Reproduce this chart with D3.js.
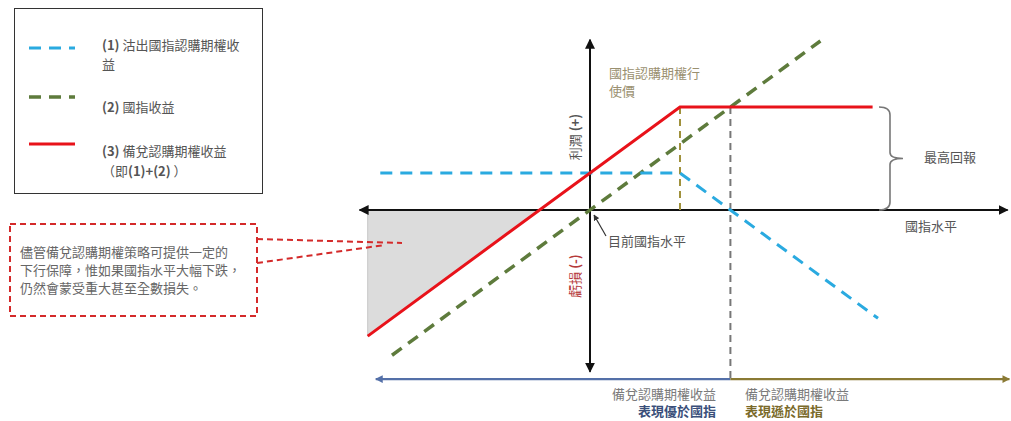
<!DOCTYPE html>
<html><head><meta charset="utf-8">
<script src="https://cdn.jsdelivr.net/npm/d3@7"></script>
<style>
body{margin:0;background:#fff;}
text{font-family:"Noto Sans CJK TC","Noto Sans",sans-serif;}
</style></head>
<body><svg id="c" width="1011" height="421"></svg>
<script>
// ---- data (index level vs. profit/loss) ----
const currentIndex = 100;
const strike = 110;
const premium = 5.6;
const breakEvenCall = 115.6;
const bluePayoffX = [76.7, 110, 132];       // (1) short call
const bluePayoffY = [5.6, 5.6, -16.4];
const greenPayoffX = [78, 125.6];           // (2) index
const greenPayoffY = [-22, 25.6];
const redPayoffX = [75.3, 110, 131.4];      // (3) covered call
const redPayoffY = [-19.1, 15.6, 15.6];
const lossAreaX = [75.3, 75.3, 94.4];
const lossAreaY = [0, -19.1, 0];
const hAxisX = [74.4, 146.4];
const vAxisY = [25.8, -24.5];
const bottomAxisY = -25.6;
const bottomAxisX = [76.2, 115.6, 146.6];

const legendLabels = [["(1) 沽出國指認購期權收","益"],["(2) 國指收益"],["(3) 備兌認購期權收益","（即(1)+(2)）"]];
const noteLines = ["儘管備兌認購期權策略可提供一定的","下行保障，惟如果國指水平大幅下跌，","仍然會蒙受重大甚至全數損失。"];

const x = d3.scaleLinear().domain([100, 110]).range([590, 680]);
const y = d3.scaleLinear().domain([0, 15.6]).range([210, 107]);

const svg = d3.select("#c");
const defs = svg.append("defs");
function marker(id, color, size){
  defs.append("marker").attr("id", id).attr("viewBox","0 0 10 10").attr("refX",9).attr("refY",5)
    .attr("markerWidth",size).attr("markerHeight",size).attr("orient","auto-start-reverse")
    .append("path").attr("d","M0,0 L10,5 L0,10 Z").attr("fill", color);
}
marker("ab","#111",5); marker("ablue","#5470a8",3.5); marker("agray","#333",5); marker("aolive","#8a7a34",3.5);

const line = d3.line().x(d=>x(d[0])).y(d=>y(d[1]));
const zip = (a,b)=>a.map((v,i)=>[v,b[i]]);

// loss area
svg.append("path").attr("d", line(zip(lossAreaX, lossAreaY))+"Z")
  .attr("fill","#dcdcdc").attr("stroke","#c8c8c8").attr("stroke-width",1);

// axes
svg.append("line").attr("x1",x(hAxisX[0])).attr("x2",x(hAxisX[1])).attr("y1",y(0)).attr("y2",y(0))
  .attr("stroke","#111").attr("stroke-width",2).attr("marker-start","url(#ab)").attr("marker-end","url(#ab)");
svg.append("line").attr("x1",x(currentIndex)).attr("x2",x(currentIndex)).attr("y1",y(vAxisY[0])).attr("y2",y(vAxisY[1]))
  .attr("stroke","#111").attr("stroke-width",2).attr("marker-start","url(#ab)").attr("marker-end","url(#ab)");

// dashed verticals
svg.append("line").attr("x1",x(strike)).attr("x2",x(strike)).attr("y1",y(redPayoffY[1])).attr("y2",y(0))
  .attr("stroke","#a0913c").attr("stroke-width",2).attr("stroke-dasharray","7,5");
svg.append("line").attr("x1",x(breakEvenCall)).attr("x2",x(breakEvenCall)).attr("y1",y(redPayoffY[1])).attr("y2",y(bottomAxisY))
  .attr("stroke","#777").attr("stroke-width",2).attr("stroke-dasharray","7,5");

// bottom axis
svg.append("line").attr("x1",x(bottomAxisX[0])).attr("x2",x(bottomAxisX[1])).attr("y1",y(bottomAxisY)).attr("y2",y(bottomAxisY))
  .attr("stroke","#5470a8").attr("stroke-width",2.2).attr("marker-start","url(#ablue)");
svg.append("line").attr("x1",x(bottomAxisX[1])).attr("x2",x(bottomAxisX[2])).attr("y1",y(bottomAxisY)).attr("y2",y(bottomAxisY))
  .attr("stroke","#8a7a34").attr("stroke-width",2.2).attr("marker-end","url(#aolive)");

// payoff lines
svg.append("path").attr("d", line(zip(greenPayoffX, greenPayoffY))).attr("fill","none")
  .attr("stroke","#5e7b3c").attr("stroke-width",3.5).attr("stroke-dasharray","12,8");
svg.append("path").attr("d", line(zip(bluePayoffX, bluePayoffY))).attr("fill","none")
  .attr("stroke","#2aaae0").attr("stroke-width",3).attr("stroke-dasharray","12,8");
svg.append("path").attr("d", line(zip(redPayoffX, redPayoffY))).attr("fill","none")
  .attr("stroke","#e8121a").attr("stroke-width",3);

// brace
const bx = 879, by0 = y(redPayoffY[1]), by1 = y(0), bm = (by0+by1)/2;
svg.append("path").attr("d",`M${bx},${by0} Q${bx+11},${by0} ${bx+11},${by0+8} L${bx+11},${bm-6} Q${bx+11},${bm} ${bx+24},${bm} Q${bx+11},${bm} ${bx+11},${bm+6} L${bx+11},${by1-8} Q${bx+11},${by1} ${bx},${by1}`)
  .attr("fill","none").attr("stroke","#777").attr("stroke-width",1.6);

// texts
const gray = "#555";
function txt(s, tx, ty, o={}){
  const t = svg.append("text").attr("x",tx).attr("y",ty).attr("font-size",o.size||13)
    .attr("fill",o.fill||gray).attr("text-anchor",o.anchor||"start").attr("dominant-baseline","middle");
  if(o.weight) t.attr("font-weight",o.weight);
  t.text(s); return t;
}
txt("國指認購期權行", 609, 74, {fill:"#9a9070"});
txt("使價", 609, 92, {fill:"#9a9070"});
txt("最高回報", 924, 158);
txt("國指水平", 905, 227);
txt("目前國指水平", 608, 242);
svg.append("line").attr("x1",606).attr("x2",594).attr("y1",236).attr("y2",215)
  .attr("stroke","#333").attr("stroke-width",1.2).attr("marker-end","url(#agray)");

const tp = svg.append("text").attr("transform","translate(576,137) rotate(-90)").attr("text-anchor","middle")
  .attr("dominant-baseline","middle").attr("font-size",13).attr("fill",gray);
tp.append("tspan").text("利潤 ");
tp.append("tspan").attr("font-weight","bold").text("(+)");
const tl = svg.append("text").attr("transform","translate(576,276) rotate(-90)").attr("text-anchor","middle")
  .attr("dominant-baseline","middle").attr("font-size",13).attr("fill","#b53a3a");
tl.append("tspan").text("虧損 ");
tl.append("tspan").attr("font-weight","bold").text("(-)");

txt("備兌認購期權收益", 716, 395, {anchor:"end", fill:"#7a7a7a"});
txt("表現優於國指", 716, 412, {anchor:"end", fill:"#3a4f7a", weight:"bold"});
txt("備兌認購期權收益", 745, 395, {fill:"#7a7a7a"});
txt("表現遜於國指", 745, 412, {fill:"#7a6a2a", weight:"bold"});

// legend
svg.append("rect").attr("x",14.5).attr("y",8.5).attr("width",248).attr("height",185)
  .attr("fill","none").attr("stroke","#333").attr("stroke-width",1);
const legStyles = [
  {c:"#2aaae0", w:3, d:"12,8", ly:48, ty:[46,65]},
  {c:"#5e7b3c", w:3.5, d:"12,8", ly:97, ty:[108]},
  {c:"#e8121a", w:3, d:null, ly:144, ty:[152,172]}
];
legendLabels.forEach((lab,i)=>{
  const s = legStyles[i];
  const l = svg.append("line").attr("x1",29).attr("x2",75).attr("y1",s.ly).attr("y2",s.ly)
    .attr("stroke",s.c).attr("stroke-width",s.w);
  if(s.d) l.attr("stroke-dasharray",s.d);
  lab.forEach((t,j)=>{
    const te = svg.append("text").attr("x", 102).attr("y",s.ty[j]).attr("font-size",13)
      .attr("fill",gray).attr("dominant-baseline","middle");
    const m = t.match(/^(\(\d\))(.*)$/);
    const m2 = t.match(/^（即(.*)）$/);
    if(m){ te.append("tspan").attr("font-weight","bold").text(m[1]); te.append("tspan").text(m[2]); }
    else if(m2){
      te.append("tspan").text("（即");
      te.append("tspan").attr("font-weight","bold").text(m2[1]);
      te.append("tspan").text(" ）");
    }
    else te.text(t);
  });
});

// note box
svg.append("rect").attr("x",10).attr("y",224).attr("width",247).attr("height",92)
  .attr("fill","none").attr("stroke","#d42a2a").attr("stroke-width",2).attr("stroke-dasharray","6,4");
noteLines.forEach((t,i)=>txt(t, 20, 253+i*18, {fill:"#666"}));
svg.append("line").attr("x1",257).attr("y1",239).attr("x2",402).attr("y2",243)
  .attr("stroke","#d42a2a").attr("stroke-width",2).attr("stroke-dasharray","6,4");
svg.append("line").attr("x1",257).attr("y1",263).attr("x2",385).attr("y2",245)
  .attr("stroke","#d42a2a").attr("stroke-width",2).attr("stroke-dasharray","6,4");
</script></body></html>
